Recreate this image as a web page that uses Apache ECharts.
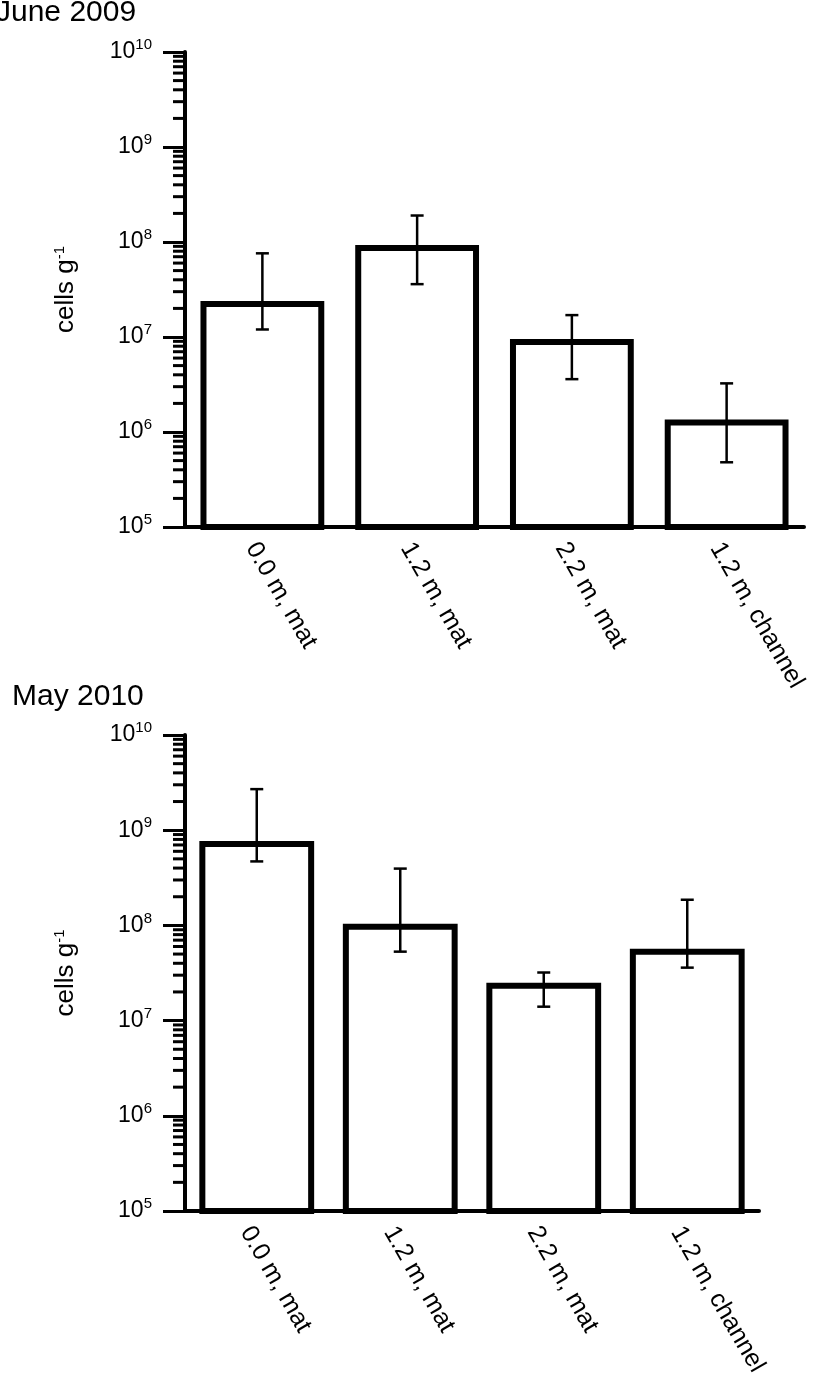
<!DOCTYPE html>
<html>
<head>
<meta charset="utf-8">
<script src="https://cdn.jsdelivr.net/npm/echarts@6/dist/echarts.min.js"></script>
<style>
html,body{margin:0;padding:0;background:#fff;}
#c{width:816px;height:1376px;}
</style>
</head>
<body>
<div id="c"></div>
<script>
// ---- data ----
var categories = ['0.0 m, mat', '1.2 m, mat', '2.2 m, mat', '1.2 m, channel'];
var titles = ['June 2009', 'May 2010'];
var june2009 = [2.4e7, 9.3e7, 9.5e6, 1.35e6];
var june2009Upper = [7.6e7, 1.9e8, 1.7e7, 3.25e6];
var june2009Lower = [1.2e7, 3.6e7, 3.6e6, 4.8e5];
var may2010 = [7.7e8, 1.04e8, 2.5e7, 5.7e7];
var may2010Upper = [2.7e9, 3.95e8, 3.2e7, 1.86e8];
var may2010Lower = [4.7e8, 5.3e7, 1.4e7, 3.6e7];
var yMin = 1e5, yMax = 1e10;
var minorMultipliers = [2, 3, 4, 5, 6, 7, 8, 9];
var decadeStarts = [1e5, 1e6, 1e7, 1e8, 1e9];
var yAxisName = 'cells g{s|-1}';

var FONT = '"Liberation Sans", Arial, sans-serif';

var minorTicks = [];
decadeStarts.forEach(function (d) {
  minorMultipliers.forEach(function (m) { minorTicks.push([0, d * m]); });
});

function errData(lower, upper) {
  return categories.map(function (c, i) { return [i, lower[i], upper[i]]; });
}

function errorRender(params, api) {
  var x = api.value(0);
  var lo = api.coord([x, api.value(1)]);
  var hi = api.coord([x, api.value(2)]);
  var hw = 6.5;
  var st = { stroke: '#000', lineWidth: 2.5 };
  return {
    type: 'group',
    children: [
      { type: 'line', shape: { x1: lo[0], y1: lo[1], x2: hi[0], y2: hi[1] }, style: st },
      { type: 'line', shape: { x1: lo[0] - hw, y1: lo[1], x2: lo[0] + hw, y2: lo[1] }, style: st },
      { type: 'line', shape: { x1: hi[0] - hw, y1: hi[1], x2: hi[0] + hw, y2: hi[1] }, style: st }
    ]
  };
}

function minorRender(params, api) {
  var y = api.coord([0, api.value(1)])[1];
  var x0 = params.coordSys.x;
  return {
    type: 'line',
    shape: { x1: x0 - 12, y1: y, x2: x0, y2: y },
    style: { stroke: '#000', lineWidth: 3 }
  };
}

var supExp = function (v) {
  var e = Math.round(Math.log(v) / Math.LN10);
  return '{b|10}{s|' + e + '}';
};

function makeY(idx) {
  return {
    type: 'log', gridIndex: idx, min: yMin, max: yMax, logBase: 10, splitNumber: 5,
    name: yAxisName, nameLocation: 'middle', nameGap: 106, nameRotate: 90,
    nameTextStyle: {
      fontFamily: FONT, fontSize: 26, color: '#000',
      rich: { s: { fontFamily: FONT, fontSize: 15, color: '#000', padding: [0, 0, 12, 0] } }
    },
    axisLine: { show: true, lineStyle: { color: '#000', width: 4 } },
    axisTick: { show: true, length: 22, lineStyle: { color: '#000', width: 3 } },
    splitLine: { show: false },
    axisLabel: {
      margin: 33, formatter: supExp, color: '#000', fontFamily: FONT, fontSize: 23,
      rich: {
        b: { fontFamily: FONT, fontSize: 23, color: '#000' },
        s: { fontFamily: FONT, fontSize: 15, color: '#000', padding: [0, 0, 14, 0] }
      }
    }
  };
}

function makeX(idx) {
  return {
    type: 'category', gridIndex: idx, data: categories,
    axisLine: { show: true, lineStyle: { color: '#000', width: 4 } },
    axisTick: { show: false },
    axisLabel: { interval: 0, rotate: -60, margin: 11, verticalAlign: 'top', color: '#000', fontFamily: FONT, fontSize: 25 }
  };
}

function barSeries(idx, data) {
  return {
    type: 'bar', xAxisIndex: idx, yAxisIndex: idx, data: data, barWidth: '80%',
    itemStyle: { color: '#fff', borderColor: '#000', borderWidth: 6 },
    clip: true, silent: true, z: 2
  };
}

var option = {
  backgroundColor: '#fff',
  animation: false,
  title: [
    { text: titles[0], left: -4, top: -2, padding: 0, textStyle: { fontFamily: FONT, fontSize: 30, fontWeight: 'normal', color: '#000' } },
    { text: titles[1], left: 12, top: 682, padding: 0, textStyle: { fontFamily: FONT, fontSize: 30, fontWeight: 'normal', color: '#000' } }
  ],
  grid: [
    { left: 185, top: 52, width: 619, height: 475, outerBoundsMode: 'none', containLabel: false },
    { left: 185, top: 735, width: 574, height: 476, outerBoundsMode: 'none', containLabel: false }
  ],
  xAxis: [makeX(0), makeX(1)],
  yAxis: [makeY(0), makeY(1)],
  series: [
    barSeries(0, june2009),
    { type: 'custom', xAxisIndex: 0, yAxisIndex: 0, data: errData(june2009Lower, june2009Upper), renderItem: errorRender, z: 5, clip: false, silent: true },
    { type: 'custom', xAxisIndex: 0, yAxisIndex: 0, data: minorTicks, renderItem: minorRender, z: 5, clip: false, silent: true },
    barSeries(1, may2010),
    { type: 'custom', xAxisIndex: 1, yAxisIndex: 1, data: errData(may2010Lower, may2010Upper), renderItem: errorRender, z: 5, clip: false, silent: true },
    { type: 'custom', xAxisIndex: 1, yAxisIndex: 1, data: minorTicks, renderItem: minorRender, z: 5, clip: false, silent: true }
  ]
};

var chart = echarts.init(document.getElementById('c'), null, { renderer: 'canvas' });
chart.setOption(option);
</script>
</body>
</html>
